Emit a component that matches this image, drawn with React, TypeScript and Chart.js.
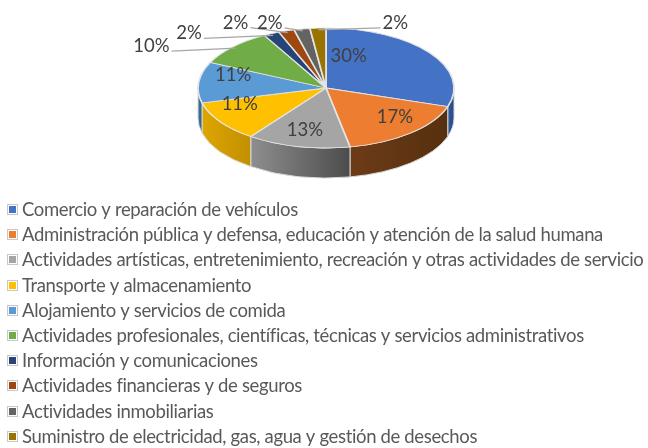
import React, { useEffect, useRef } from 'react';
import { Chart, registerables } from 'chart.js';

Chart.register(...registerables);

// ---- data ----
const categories = [
  'Comercio y reparación de vehículos',
  'Administración pública y defensa, educación y atención de la salud humana',
  'Actividades artísticas, entretenimiento, recreación y otras actividades de servicio',
  'Transporte y almacenamiento',
  'Alojamiento y servicios de comida',
  'Actividades profesionales, científicas, técnicas y servicios administrativos',
  'Información y comunicaciones',
  'Actividades financieras y de seguros',
  'Actividades inmobiliarias',
  'Suministro de electricidad, gas, agua y gestión de desechos',
];
const shares = [30, 17, 13, 11, 11, 10, 2, 2, 2, 2];
const shareLabels = ['30%', '17%', '13%', '11%', '11%', '10%', '2%', '2%', '2%', '2%'];
const topColors = ['#4472C4', '#ED7D31', '#A5A5A5', '#FFC000', '#5B9BD5', '#70AD47', '#264478', '#9E480E', '#636363', '#997300'];
const sideLight = ['#30589C', '#6E3B18', '#8E8E8E', '#DEA600', '#41729E', '#527F33', '#1B3258', '#74340A', '#494949', '#715500'];
const sideDark = ['#294B86', '#55300F', '#4C4C4C', '#C28F00', '#365F84', '#40632A', '#142543', '#5A2808', '#383838', '#574100'];

// label placement (inside = on the slice, outside = callout with leader line)
const labelPlacement = [
  { inside: true, dx: -52, dy: -7 },
  { inside: true, dx: 8, dy: -3 },
  { inside: true, dx: -1, dy: 0 },
  { inside: true, dx: -10, dy: -8 },
  { inside: true, dx: -1, dy: -9 },
  { inside: false, dx: -84, dy: -2 },
  { inside: false, dx: -84, dy: -2 },
  { inside: false, dx: -52, dy: -10 },
  { inside: false, dx: -33, dy: -8 },
  { inside: false, dx: 77, dy: -7 },
];

const FONT = 'Lato, "Noto Sans", sans-serif';

const pie3d = {
  id: 'pie3d',
  beforeDatasetsDraw(chart: any, _a: any, opts: any) {
    const meta = chart.getDatasetMeta(0);
    const ctx = chart.ctx as CanvasRenderingContext2D;
    const { cx, cy, rx, ry, depth } = opts;
    meta.data.forEach((arc: any, i: number) => {
      const s = Math.max(arc.startAngle, 0);
      const e = Math.min(arc.endAngle, Math.PI);
      if (e <= s) return;
      const x1 = cx + rx * Math.cos(s);
      const x2 = cx + rx * Math.cos(e);
      const g = ctx.createLinearGradient(Math.min(x1, x2), 0, Math.max(x1, x2), 0);
      g.addColorStop(0, sideLight[i]);
      g.addColorStop(1, sideDark[i]);
      ctx.beginPath();
      ctx.ellipse(cx, cy, rx, ry, 0, s, e, false);
      ctx.ellipse(cx, cy + depth, rx, ry, 0, e, s, true);
      ctx.closePath();
      ctx.fillStyle = g;
      ctx.fill();
      ctx.strokeStyle = '#D9D9D9';
      ctx.lineWidth = 1;
      ctx.stroke();
    });
    const a0 = meta.data[0];
    ctx.save();
    ctx.translate(cx, cy);
    ctx.scale(rx / a0.outerRadius, ry / a0.outerRadius);
    ctx.translate(-a0.x, -a0.y);
  },
  afterDatasetsDraw(chart: any, _a: any, opts: any) {
    const ctx = chart.ctx as CanvasRenderingContext2D;
    ctx.restore();
    const meta = chart.getDatasetMeta(0);
    const { cx, cy, rx, ry, insideR, pctSize } = opts;
    ctx.save();
    ctx.font = `${pctSize}px ${FONT}`;
    ctx.textAlign = 'center';
    ctx.textBaseline = 'middle';
    meta.data.forEach((arc: any, i: number) => {
      const mid = (arc.startAngle + arc.endAngle) / 2;
      const pl = labelPlacement[i];
      const text = shareLabels[i];
      const w = ctx.measureText(text).width;
      if (pl.inside) {
        const x = cx + rx * insideR * Math.cos(mid) + pl.dx;
        const y = cy + ry * insideR * Math.sin(mid) + pl.dy;
        ctx.fillStyle = '#404040';
        ctx.fillText(text, x, y);
      } else {
        const ex = cx + rx * 0.97 * Math.cos(mid);
        const ey = cy + ry * 0.97 * Math.sin(mid);
        const lx = ex + pl.dx;
        const ly = ey + pl.dy;
        const sx = pl.dx < 0 ? lx + w / 2 + 2 : lx - w / 2 - 2;
        const sy = ly + 5;
        ctx.beginPath();
        ctx.moveTo(sx, sy);
        ctx.lineTo(ex, ey);
        ctx.strokeStyle = '#A6A6A6';
        ctx.lineWidth = 1.4;
        ctx.stroke();
        ctx.fillStyle = '#404040';
        ctx.fillText(text, lx, ly);
      }
    });
    ctx.restore();
  },
  afterDraw(chart: any, _a: any, opts: any) {
    const ctx = chart.ctx as CanvasRenderingContext2D;
    const { legendTop, legendStep, legendWidth, legendSize } = opts;
    ctx.save();
    // fit legend text to the width of the longest label via letter spacing
    ctx.font = `${legendSize}px ${FONT}`;
    let maxW = 0;
    let longest = '';
    categories.forEach((c) => {
      const w = ctx.measureText(c).width;
      if (w > maxW) { maxW = w; longest = c; }
    });
    const ls = (legendWidth - maxW) / longest.length;
    (ctx as any).letterSpacing = `${ls.toFixed(2)}px`;
    ctx.textAlign = 'left';
    ctx.textBaseline = 'middle';
    categories.forEach((c, i) => {
      const y = Math.round(legendTop + legendStep * i);
      ctx.strokeStyle = '#C8C8C8';
      ctx.lineWidth = 1;
      ctx.strokeRect(7.5, y - 5.5, 10, 10);
      ctx.fillStyle = topColors[i];
      ctx.fillRect(9, y - 4, 7, 7);
      ctx.fillStyle = '#595959';
      ctx.fillText(c, 22, y);
    });
    ctx.restore();
  },
};

export default function App() {
  const ref = useRef<HTMLCanvasElement>(null);
  useEffect(() => {
    document.body.style.margin = '0';
    const chart = new Chart(ref.current!, {
      type: 'pie',
      data: {
        labels: categories,
        datasets: [{
          data: shares,
          backgroundColor: topColors,
          borderColor: '#E4E4E4',
          borderWidth: 1.6,
        }],
      },
      options: {
        responsive: false,
        animation: false,
        events: [],
        layout: { padding: { top: 10, bottom: 200, left: 200, right: 200 } },
        plugins: {
          legend: { display: false },
          tooltip: { enabled: false },
          pie3d: {
            cx: 326, cy: 88, rx: 128, ry: 60, depth: 30,
            insideR: 0.72, pctSize: 18.5,
            legendTop: 210, legendStep: 25.2, legendWidth: 623, legendSize: 18.5,
          },
        } as any,
      },
      plugins: [pie3d],
    });
    return () => chart.destroy();
  }, []);
  return (
    <div style={{ width: 648, height: 448, background: '#fff' }}>
      <canvas ref={ref} width={648} height={448} style={{ display: 'block' }} />
    </div>
  );
}
